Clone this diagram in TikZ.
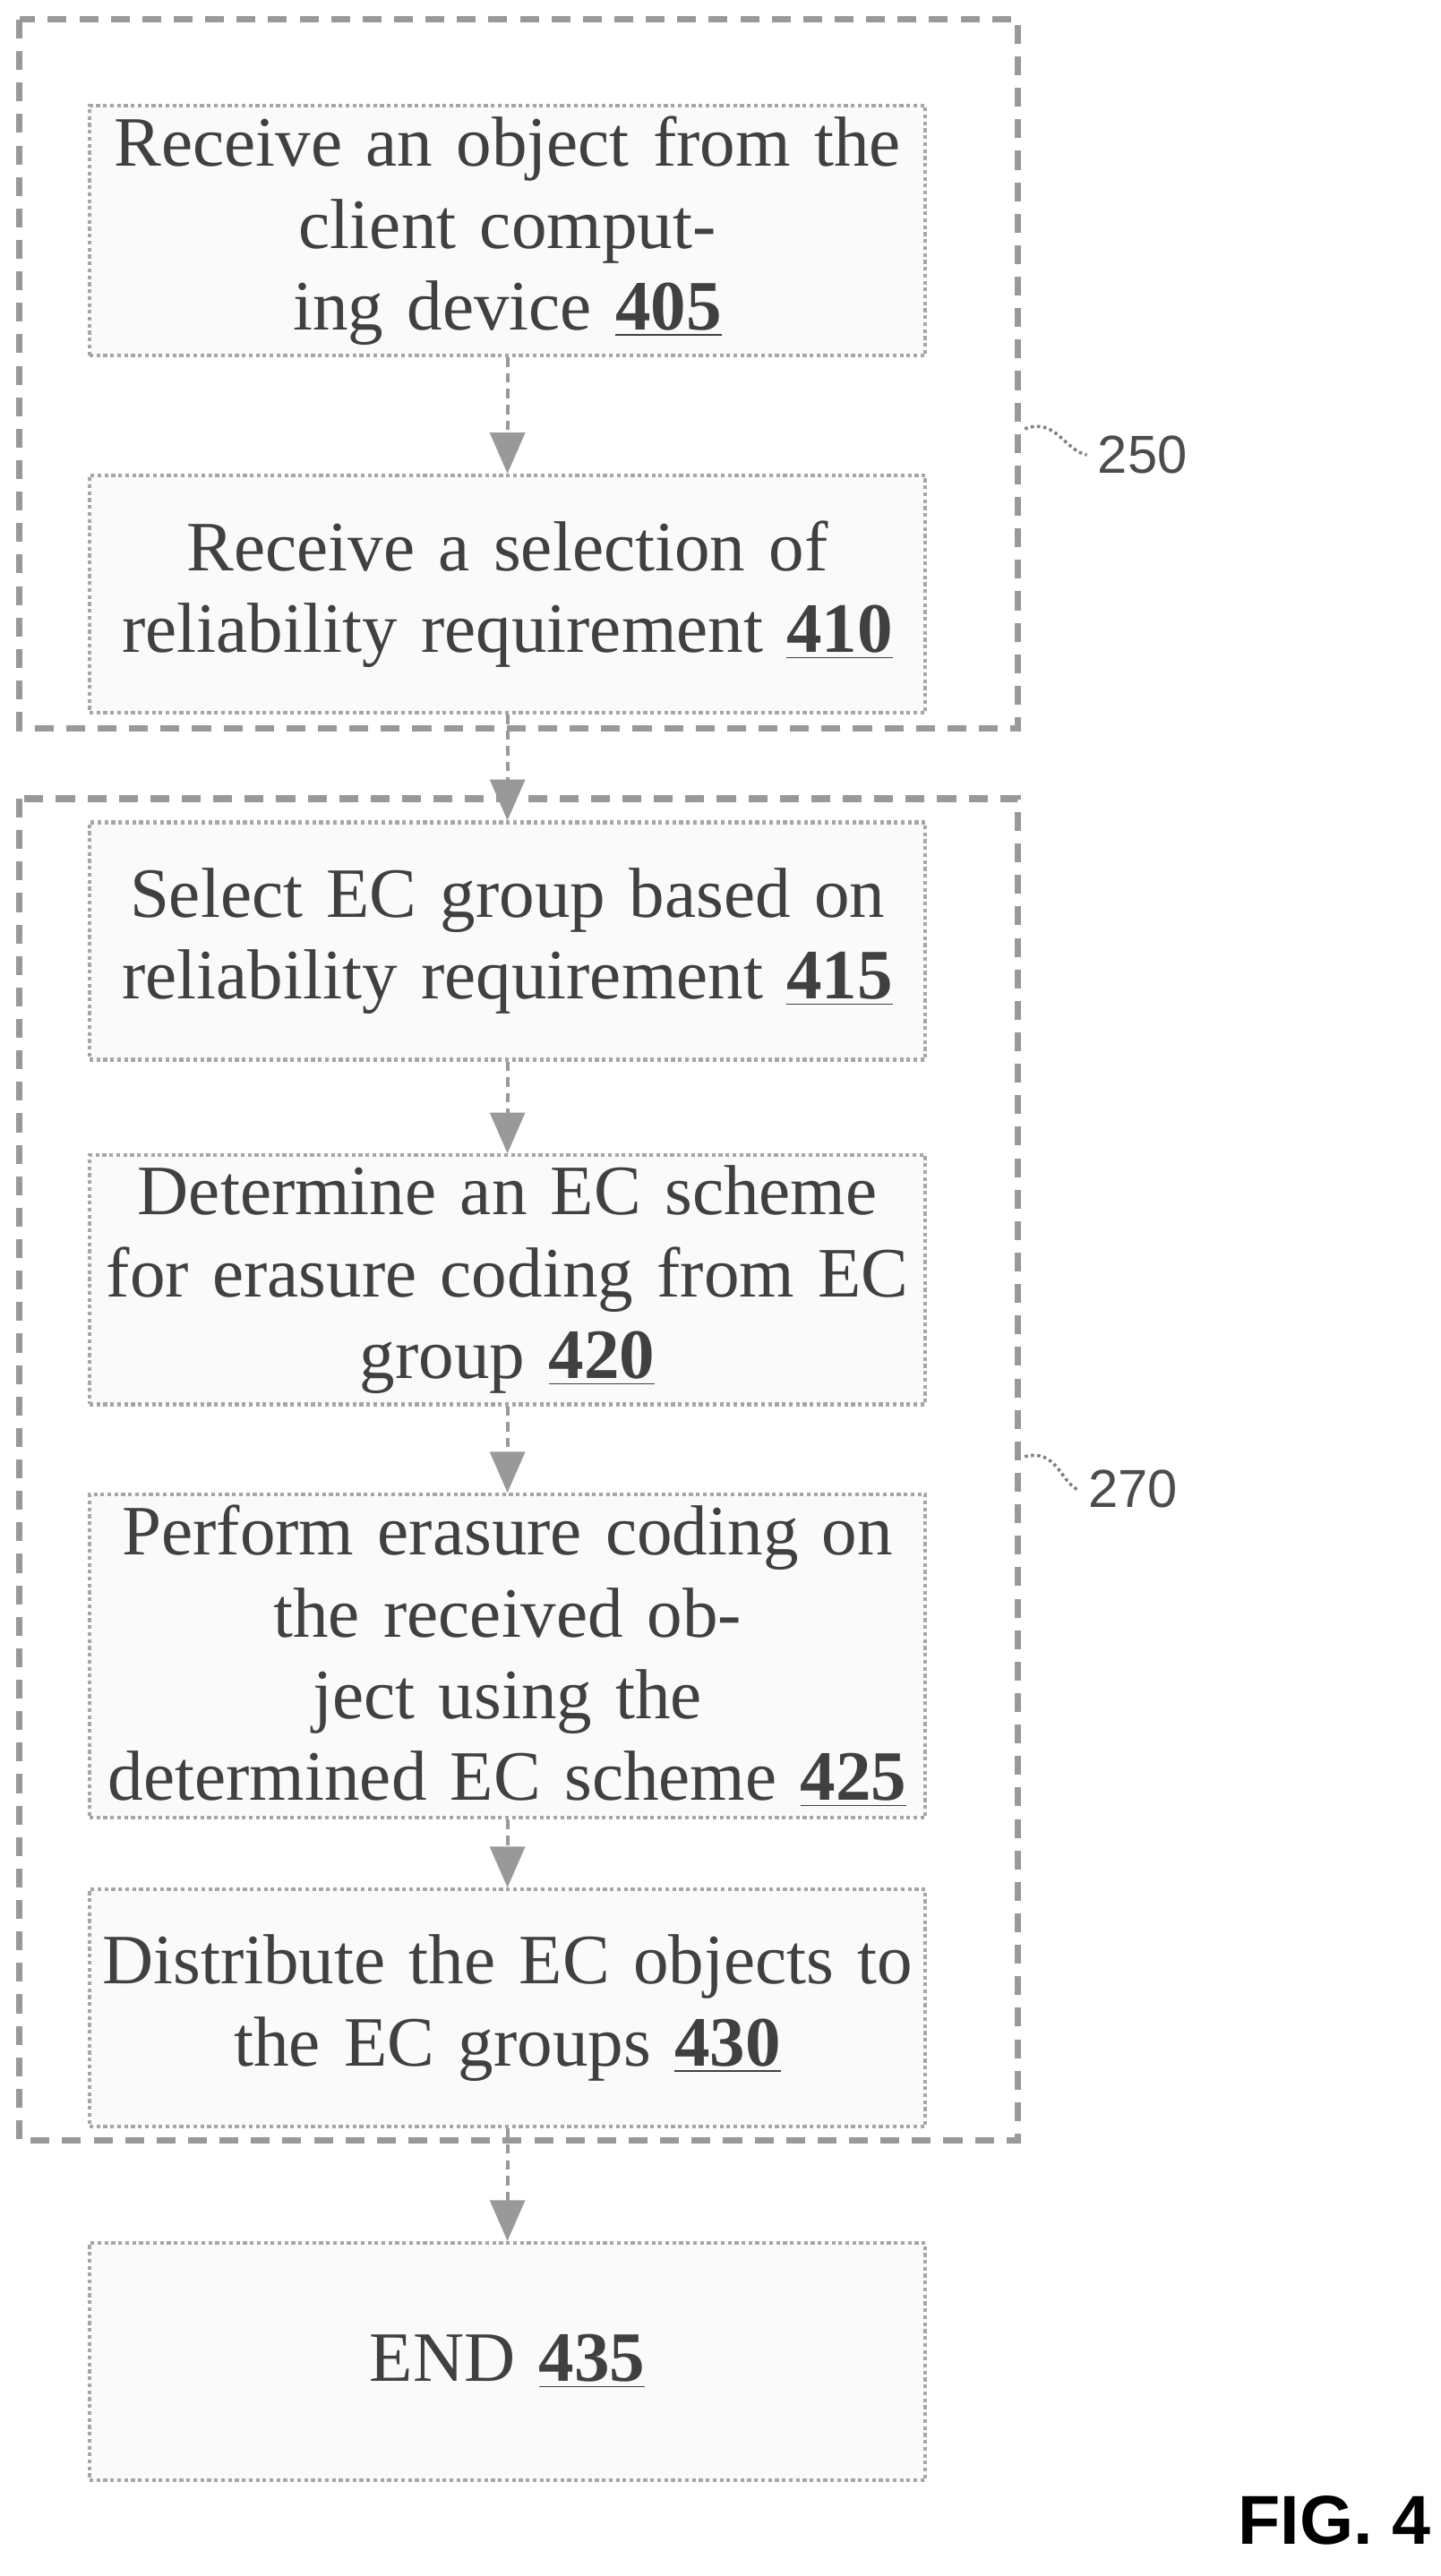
\documentclass[tikz,border=0pt]{standalone}
\usepackage{fontspec}
\setmainfont{Liberation Serif}
\newfontfamily\figfont{Liberation Sans}
\usetikzlibrary{arrows.meta}
\newcommand{\refnum}[1]{\underline{\textbf{#1}}}
\tikzset{
  stepbox/.style={draw=gray!70, densely dotted, line width=1.2pt, fill=gray!4,
    minimum width=9.14cm, minimum height=2.65cm, text width=9.1cm,
    align=center, font=\fontsize{22.5}{26}\selectfont, text=black!75},
  group/.style={draw=gray!80, line width=2pt, dash pattern=on 6pt off 4pt},
  flow/.style={-{Triangle[width=11pt,length=13pt]}, line width=1.2pt, gray!80, densely dashed},
  tag/.style={font=\figfont\fontsize{17}{20}\selectfont, text=black!70}
}
\begin{document}
\begin{tikzpicture}[x=0.01828cm,y=-0.01828cm]
\useasboundingbox (0,0) rectangle (880,1574);
% groups
\draw[group] (12,12) rectangle (622,445);
\draw[group] (12,488) rectangle (622,1308);
% steps
\node[stepbox] (s405) at (310,141) {Receive an object from the\\ client computing device \refnum{405}};
\node[stepbox] (s410) at (310,363) {Receive a selection of\\ reliability requirement \refnum{410}};
\node[stepbox] (s415) at (310,575) {Select EC group based on\\ reliability requirement \refnum{415}};
\node[stepbox] (s420) at (310,782) {Determine an EC scheme\\ for erasure coding from EC\\ group \refnum{420}};
\node[stepbox] (s425) at (310,1012) {Perform erasure coding on\\ the received object using the\\ determined EC scheme \refnum{425}};
\node[stepbox] (s430) at (310,1227) {Distribute the EC objects to\\ the EC groups \refnum{430}};
\node[stepbox] (s435) at (310,1443) {END \refnum{435}};
% connectors
\draw[flow] (s405) -- (s410);
\draw[flow] (s410) -- (s415);
\draw[flow] (s415) -- (s420);
\draw[flow] (s420) -- (s425);
\draw[flow] (s425) -- (s430);
\draw[flow] (s430) -- (s435);
% labels
\node[tag] (l250) at (698,278) {250};
\coordinate (c250) at (626,262);
\draw[gray, densely dotted, line width=1pt] (c250) .. controls (645,255) and (650,275) .. (l250.west);
\node[tag] (l270) at (692,910) {270};
\coordinate (c270) at (626,890);
\draw[gray, densely dotted, line width=1pt] (c270) .. controls (645,885) and (648,905) .. (l270.west);
\node[font=\figfont\bfseries\fontsize{22}{26}\selectfont] (fig) at (815,1540) {FIG. 4};
\end{tikzpicture}
\end{document}
